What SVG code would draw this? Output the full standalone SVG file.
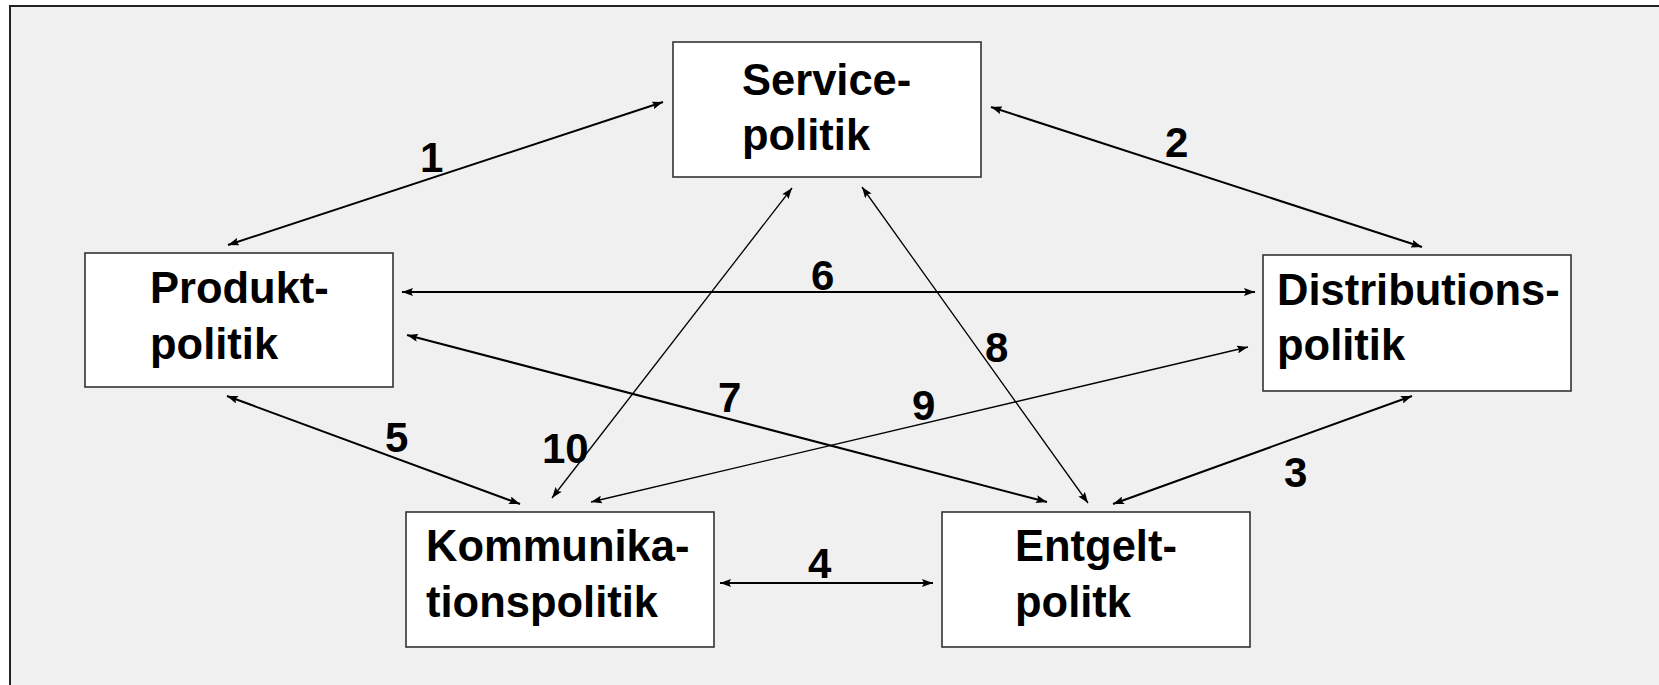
<svg xmlns="http://www.w3.org/2000/svg" width="1659" height="685" viewBox="0 0 1659 685">
<style>
.box{fill:#ffffff;stroke:#333333;stroke-width:1.6}
.t{font-family:"Liberation Sans",Arial,sans-serif;font-weight:bold;font-size:43.5px;fill:#000}
.n{font-family:"Liberation Sans",Arial,sans-serif;font-weight:bold;font-size:42px;fill:#000}
.c{stroke:#000;stroke-width:2;fill:none;marker-start:url(#ah);marker-end:url(#ah)}
.c.thin{stroke-width:1.3}
</style>
<defs>
<marker id="ah" markerUnits="userSpaceOnUse" markerWidth="12" markerHeight="8" refX="11" refY="4" orient="auto-start-reverse">
<path d="M0,0 L11,4 L0,8 L2,4 z" fill="#000"/>
</marker>
</defs>
<rect x="0" y="0" width="1659" height="685" fill="#ffffff"/>
<rect x="10" y="6" width="1700" height="720" fill="#f0f0f0" stroke="#222" stroke-width="2"/>
<g id="connectors">
<line class="c" x1="228" y1="245" x2="663" y2="102"/>
<line class="c" x1="991" y1="107" x2="1422" y2="247"/>
<line class="c" x1="1113" y1="504" x2="1412" y2="396"/>
<line class="c" x1="720" y1="583" x2="933" y2="583"/>
<line class="c" x1="227" y1="396" x2="520" y2="504"/>
<line class="c" x1="402" y1="292" x2="1255" y2="292"/>
<line class="c" x1="407" y1="335" x2="1047" y2="502"/>
<line class="c thin" x1="862" y1="187" x2="1088" y2="503"/>
<line class="c thin" x1="591" y1="502" x2="1248" y2="347"/>
<line class="c thin" x1="792" y1="188" x2="552" y2="498"/>
<text class="n" x="420" y="172">1</text>
<text class="n" x="1165" y="157">2</text>
<text class="n" x="1284" y="487">3</text>
<text class="n" x="808" y="578">4</text>
<text class="n" x="385" y="452">5</text>
<text class="n" x="811" y="290">6</text>
<text class="n" x="718" y="412">7</text>
<text class="n" x="985" y="362">8</text>
<text class="n" x="912" y="420">9</text>
<text class="n" x="542" y="463">10</text>
</g>
<g id="service">
<rect class="box" x="673" y="42" width="308" height="135"/>
<text class="t" x="742" y="95">Service-</text>
<text class="t" x="742" y="150">politik</text>
</g>
<g id="produkt">
<rect class="box" x="85" y="253" width="308" height="134"/>
<text class="t" x="150" y="303">Produkt-</text>
<text class="t" x="150" y="359">politik</text>
</g>
<g id="distribution">
<rect class="box" x="1263" y="255" width="308" height="136"/>
<text class="t" x="1277" y="305">Distributions-</text>
<text class="t" x="1277" y="360">politik</text>
</g>
<g id="kommunikation">
<rect class="box" x="406" y="512" width="308" height="135"/>
<text class="t" x="426" y="561">Kommunika-</text>
<text class="t" x="426" y="617">tionspolitik</text>
</g>
<g id="entgelt">
<rect class="box" x="942" y="512" width="308" height="135"/>
<text class="t" x="1015" y="561">Entgelt-</text>
<text class="t" x="1015" y="617">politk</text>
</g>
</svg>
